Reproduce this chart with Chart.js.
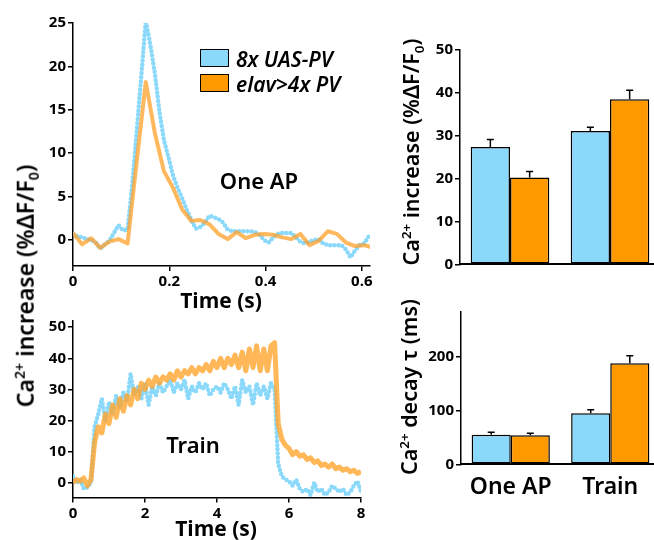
<!DOCTYPE html>
<html>
<head>
<meta charset="utf-8">
<script src="https://cdn.jsdelivr.net/npm/chart.js@4.4.0/dist/chart.umd.min.js"></script>
<style>
  html, body { margin: 0; padding: 0; background: #fff; }
  body { width: 654px; height: 540px; position: relative; overflow: hidden; font-family: 'Open Sans', 'Noto Sans', sans-serif; color: #000; }
  canvas { position: absolute; }
  .lbl { position: absolute; white-space: nowrap; transform: translate(-50%, -50%); line-height: 1; }
  .semi { font-family: 'Noto Sans', 'Open Sans', sans-serif; font-weight: 600; }
  .rot { transform: translate(-50%, -50%) rotate(-90deg); }
  .lbl sup, .lbl sub { font-size: 62%; }
  .box { position: absolute; width: 27px; height: 16px; border: 1.5px solid #000; }
  .leg { position: absolute; font-style: italic; font-weight: 600; font-size: 21px; transform: translateY(-50%); white-space: nowrap; font-family: 'Noto Sans', 'Open Sans', sans-serif; }
</style>
</head>
<body>
<canvas id="apChart" width="380" height="300" style="left:0;top:0"></canvas>
<canvas id="trainChart" width="380" height="240" style="left:0;top:300px"></canvas>
<canvas id="ampChart" width="280" height="300" style="left:380px;top:0"></canvas>
<canvas id="tauChart" width="280" height="240" style="left:380px;top:300px"></canvas>

<div class="lbl rot semi" style="left:27px;top:286px;font-size:23px">Ca<sup>2+</sup> increase (%ΔF/F<sub>0</sub>)</div>
<div class="lbl rot semi" style="left:413px;top:152px;font-size:21.5px">Ca<sup>2+</sup> increase (%ΔF/F<sub>0</sub>)</div>
<div class="lbl rot semi" style="left:409px;top:387px;font-size:21.5px">Ca<sup>2+</sup> decay τ (ms)</div>
<div class="lbl" style="left:221px;top:300px;font-size:21px;font-weight:700">Time (s)</div>
<div class="lbl" style="left:216px;top:528px;font-size:21px;font-weight:700">Time (s)</div>
<div class="lbl semi" style="left:259px;top:180px;font-size:22px">One AP</div>
<div class="lbl semi" style="left:193px;top:444px;font-size:22px">Train</div>

<div class="box" style="left:200px;top:49px;background:#8ad8fa"></div>
<div class="box" style="left:200px;top:74px;background:#ff9900"></div>
<div class="leg" style="left:236px;top:59px">8x UAS-PV</div>
<div class="leg" style="left:236px;top:84px">elav&gt;4x PV</div>

<script>
const FONT = "'Open Sans', 'Noto Sans', sans-serif";
const SEMI_FONT = "'Noto Sans', 'Open Sans', sans-serif";
const BLUE = "#8ad8fa";
const ORANGE = "#ff9900";

// One AP traces (s sampling step, %dF/F0)
const apOrangeStep = 0.0189;
const apOrange = [0.8, -0.5, 0.2, -0.9, -0.2, 0.1, -0.4, 9, 18.2, 12.3, 7.9, 6.0, 3.5, 2.2, 2.3, 1.8,
  0.7, 0.1, 0.9, 0.2, 0.6, 0.7, 0.6, 0.3, 0.1, 0.7, -0.6, -0.1, 1.0, 0.7, -0.3, -0.7, -0.6, -0.9];
const apBlueStep = 0.00945;
const apBlue = [0.7, 0.4, 0.3, 0.1, 0.0, -0.3, -1.0, -0.5, -0.1, 0.8, 1.7, 1.1, 1.2, 6.3, 12.5, 18.8,
  25.3, 22.5, 19.2, 14.8, 11.5, 9.5, 7.4, 6.0, 4.8, 3.5, 2.3, 1.3, 1.5, 2.0, 2.8, 2.6,
  2.4, 2.0, 1.2, 1.0, 1.0, 1.0, 1.0, 1.0, 0.9, 0.6, 0.0, -0.3, 0.3, 0.7, 0.8, 0.8,
  0.8, 0.3, -0.2, -0.4, -0.2, 0.0, 0.1, -0.4, -0.6, -0.6, -0.6, -0.6, -1.1, -2.0, -1.2, -0.6,
  -0.4, 0.4];

// Train traces, 0.1 s sampling
const trainStep = 0.1;
const trainOrange = [0, 1, 0.5, 1.5, -1, 1, 13, 18, 16, 22,
  19, 25, 21, 27, 23, 28, 25, 30, 27, 32,
  30, 33, 31, 34, 32, 34, 33, 35, 33, 36,
  34, 36, 35, 37, 35, 37, 36, 38, 36, 39,
  37, 40, 37, 40, 38, 41, 37, 42, 36, 43,
  37, 44, 36, 43, 36, 44, 45, 19, 14, 12,
  11, 9, 10, 8.5, 9, 7.5, 8, 6.5, 7, 5.5,
  6, 5, 6, 4.5, 5, 4, 4.5, 3.5, 4, 3, 3.5];
const trainBlue = [2, 0, 1, -2, -1.5, 0, 18, 22, 27, 20,
  26, 22, 28, 24, 29, 26, 35, 28, 31, 27,
  32, 25, 31, 28, 32, 29, 31, 33, 29, 32,
  30, 33, 27, 31, 29, 32, 30, 32, 28, 30,
  31, 29, 32, 30, 27, 31, 25, 33, 29, 31,
  25, 32, 28, 31, 27, 32, 30, 6, 2, 1,
  0.5, -1, 1, -2, -3, -2, -4, 0, -3, -2,
  -4, -3, -1, -2, -3, -2, -4, -3, -1, 0.5, -3];

// Bar summaries
const conditions = ["One AP", "Train"];
const ampBlue = [27.3, 31.0];
const ampBlueErr = [1.7, 0.9];
const ampOrange = [20.2, 38.4];
const ampOrangeErr = [1.4, 2.1];
const tauBlue = [55, 95];
const tauBlueErr = [4.6, 6.7];
const tauOrange = [54, 188];
const tauOrangeErr = [3.7, 14];

function toPoints(values, step) {
  return values.map((v, i) => ({ x: i * step, y: v }));
}

function tickFont(size) {
  return { family: FONT, size: size, weight: "bold" };
}

function axis(extra) {
  return Object.assign({
    border: { display: true, color: "#000", width: 1.5 },
    grid: { display: true, drawOnChartArea: false, drawTicks: true, tickLength: 5, color: "#000", lineWidth: 1.5 },
    ticks: { color: "#000", font: tickFont(15), padding: 2, includeBounds: false }
  }, extra);
}

function ticksWith(step) {
  return Object.assign({}, axis({}).ticks, { stepSize: step });
}

const blueDotted = {
  borderColor: BLUE,
  borderWidth: 4.5,
  borderDash: [0, 4.2],
  borderCapStyle: "round",
  pointRadius: 0,
  tension: 0
};
const orangeLine = {
  borderColor: "rgba(255,160,40,0.75)",
  borderWidth: 4,
  borderJoinStyle: "round",
  pointRadius: 0,
  tension: 0
};

Chart.defaults.animation = false;
Chart.defaults.plugins.legend.display = false;
Chart.defaults.plugins.tooltip.enabled = false;

new Chart(document.getElementById("apChart"), {
  type: "line",
  data: {
    datasets: [
      Object.assign({ data: toPoints(apOrange, apOrangeStep) }, orangeLine),
      Object.assign({ data: toPoints(apBlue, apBlueStep) }, blueDotted)
    ]
  },
  options: {
    responsive: false,
    layout: { padding: { top: 23, right: 10, left: 0, bottom: 0 } },
    scales: {
      x: axis({ type: "linear", min: 0, max: 0.617, ticks: ticksWith(0.2), afterFit: s => { s.height = 34; } }),
      y: axis({ min: -3, max: 25, ticks: ticksWith(5), afterFit: s => { s.width = 73; } })
    }
  }
});

new Chart(document.getElementById("trainChart"), {
  type: "line",
  data: {
    datasets: [
      Object.assign({ data: toPoints(trainOrange, trainStep) }, orangeLine, { borderWidth: 5, borderColor: "rgba(255,165,45,0.8)" }),
      Object.assign({ data: toPoints(trainBlue, trainStep) }, blueDotted)
    ]
  },
  options: {
    responsive: false,
    layout: { padding: { top: 21, right: 19, left: 0, bottom: 0 } },
    scales: {
      x: axis({ type: "linear", min: 0, max: 8, ticks: ticksWith(2), afterFit: s => { s.height = 42.4; } }),
      y: axis({ min: -4.8, max: 52, ticks: ticksWith(10), afterFit: s => { s.width = 73; } })
    }
  }
});

const errorBars = {
  id: "errorBars",
  afterDatasetsDraw(chart) {
    const ctx = chart.ctx;
    const yScale = chart.scales.y;
    ctx.save();
    ctx.strokeStyle = "#000";
    ctx.lineWidth = 1.5;
    chart.data.datasets.forEach((ds, i) => {
      chart.getDatasetMeta(i).data.forEach((bar, j) => {
        const top = yScale.getPixelForValue(ds.data[j] + ds.errors[j]);
        ctx.beginPath();
        ctx.moveTo(bar.x, bar.y);
        ctx.lineTo(bar.x, top);
        ctx.moveTo(bar.x - 3.5, top);
        ctx.lineTo(bar.x + 3.5, top);
        ctx.stroke();
      });
    });
    ctx.restore();
  }
};

function barChart(id, blue, blueErr, orange, orangeErr, yOpts, padTop, xHeight, showLabels) {
  return new Chart(document.getElementById(id), {
    type: "bar",
    data: {
      labels: conditions,
      datasets: [
        { data: blue, errors: blueErr, backgroundColor: BLUE, borderColor: "#000", borderWidth: 1.5, borderSkipped: false },
        { data: orange, errors: orangeErr, backgroundColor: ORANGE, borderColor: "#000", borderWidth: 1.5, borderSkipped: false }
      ]
    },
    options: {
      responsive: false,
      categoryPercentage: 0.786,
      barPercentage: 1,
      layout: { padding: { top: padTop, right: 0, left: 0, bottom: 0 } },
      scales: {
        x: {
          border: { display: true, color: "#000", width: 2 },
          grid: { display: false },
          ticks: { display: showLabels, color: "#000", font: { family: SEMI_FONT, size: 23, weight: 600 }, padding: 1 },
          afterFit: s => { s.height = xHeight; }
        },
        y: axis(yOpts)
      }
    },
    plugins: [errorBars]
  });
}

barChart("ampChart", ampBlue, ampBlueErr, ampOrange, ampOrangeErr,
  { min: 0, max: 50, ticks: ticksWith(10), afterFit: s => { s.width = 80; } },
  49.3, 35.7, false);

barChart("tauChart", tauBlue, tauBlueErr, tauOrange, tauOrangeErr,
  { min: 0, max: 284, ticks: ticksWith(100), afterFit: s => { s.width = 81; } },
  11.7, 75.7, true);
</script>
</body>
</html>
